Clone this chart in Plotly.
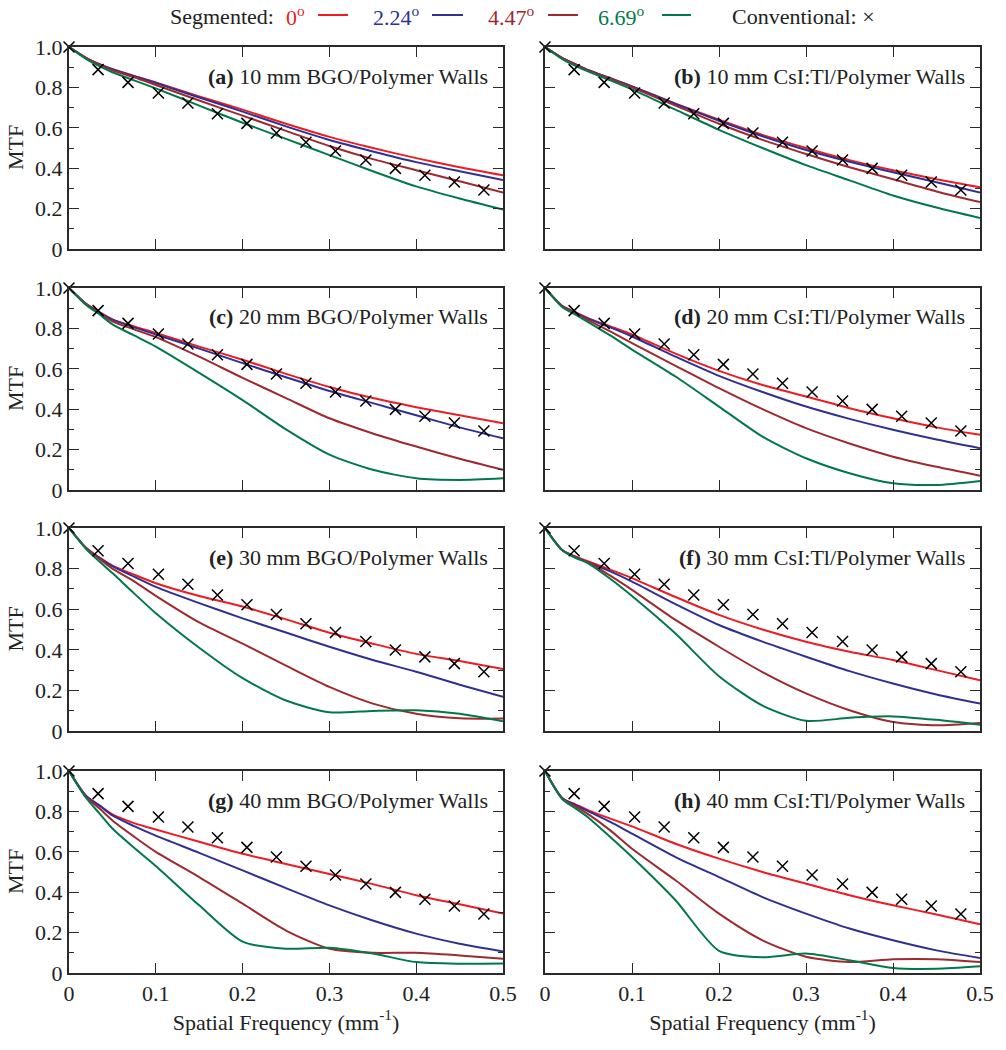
import plotly.graph_objects as go
from plotly.subplots import make_subplots

# ---------------- data ----------------
freq = [0, 0.02, 0.035, 0.05, 0.075, 0.1, 0.15, 0.2, 0.25, 0.3, 0.35, 0.4, 0.45, 0.5]

conv_freq = [0, 0.0335, 0.068, 0.103, 0.137, 0.171, 0.205, 0.239, 0.273, 0.307, 0.342, 0.376, 0.410, 0.444, 0.478]
conv_mtf = [1.0, 0.888, 0.825, 0.772, 0.723, 0.670, 0.622, 0.574, 0.528, 0.485, 0.441, 0.399, 0.365, 0.332, 0.292]

angle_labels = ["0", "2.24", "4.47", "6.69"]

# (a) 10 mm BGO
a_0 = [1.0, 0.945, 0.915, 0.89, 0.857, 0.825, 0.755, 0.69, 0.62, 0.555, 0.5, 0.45, 0.405, 0.365]
a_224 = [1.0, 0.945, 0.915, 0.89, 0.855, 0.822, 0.75, 0.68, 0.607, 0.54, 0.483, 0.43, 0.385, 0.342]
a_447 = [1.0, 0.945, 0.913, 0.885, 0.85, 0.812, 0.735, 0.66, 0.585, 0.51, 0.445, 0.39, 0.335, 0.28]
a_669 = [1.0, 0.94, 0.905, 0.875, 0.835, 0.795, 0.71, 0.625, 0.545, 0.465, 0.385, 0.31, 0.25, 0.195]
# (b) 10 mm CsI:Tl
b_0 = [1.0, 0.945, 0.915, 0.885, 0.845, 0.805, 0.72, 0.64, 0.565, 0.5, 0.44, 0.39, 0.345, 0.305]
b_224 = [1.0, 0.945, 0.915, 0.885, 0.845, 0.805, 0.718, 0.635, 0.558, 0.49, 0.432, 0.38, 0.33, 0.28]
b_447 = [1.0, 0.945, 0.913, 0.883, 0.842, 0.80, 0.71, 0.62, 0.54, 0.47, 0.405, 0.345, 0.285, 0.232]
b_669 = [1.0, 0.94, 0.907, 0.878, 0.835, 0.79, 0.69, 0.59, 0.5, 0.415, 0.34, 0.265, 0.205, 0.153]
# (c) 20 mm BGO
c_0 = [1.0, 0.92, 0.88, 0.845, 0.81, 0.778, 0.71, 0.645, 0.575, 0.51, 0.455, 0.41, 0.37, 0.33]
c_224 = [1.0, 0.92, 0.88, 0.843, 0.805, 0.77, 0.70, 0.628, 0.558, 0.49, 0.43, 0.37, 0.31, 0.256]
c_447 = [1.0, 0.92, 0.877, 0.835, 0.795, 0.757, 0.66, 0.555, 0.455, 0.355, 0.28, 0.215, 0.155, 0.1]
c_669 = [1.0, 0.915, 0.87, 0.82, 0.765, 0.71, 0.58, 0.445, 0.3, 0.175, 0.1, 0.058, 0.05, 0.058]
# (d) 20 mm CsI:Tl
d_0 = [1.0, 0.91, 0.88, 0.85, 0.81, 0.77, 0.675, 0.59, 0.52, 0.463, 0.405, 0.355, 0.31, 0.273]
d_224 = [1.0, 0.91, 0.878, 0.847, 0.805, 0.76, 0.66, 0.565, 0.485, 0.413, 0.352, 0.298, 0.25, 0.207]
d_447 = [1.0, 0.91, 0.875, 0.84, 0.785, 0.727, 0.615, 0.504, 0.4, 0.306, 0.23, 0.165, 0.115, 0.071]
d_669 = [1.0, 0.905, 0.868, 0.83, 0.765, 0.695, 0.562, 0.413, 0.264, 0.157, 0.083, 0.033, 0.025, 0.045]
# (e) 30 mm BGO
e_0 = [1.0, 0.9, 0.855, 0.815, 0.77, 0.728, 0.665, 0.613, 0.55, 0.484, 0.43, 0.38, 0.345, 0.305]
e_224 = [1.0, 0.9, 0.853, 0.812, 0.76, 0.71, 0.63, 0.555, 0.485, 0.415, 0.35, 0.292, 0.228, 0.168]
e_447 = [1.0, 0.9, 0.848, 0.80, 0.737, 0.666, 0.535, 0.43, 0.322, 0.217, 0.135, 0.085, 0.063, 0.061]
e_669 = [1.0, 0.895, 0.835, 0.778, 0.678, 0.58, 0.41, 0.26, 0.15, 0.092, 0.099, 0.102, 0.085, 0.048]
# (f) 30 mm CsI:Tl
f_0 = [1.0, 0.89, 0.86, 0.835, 0.795, 0.753, 0.66, 0.572, 0.5, 0.44, 0.39, 0.35, 0.3, 0.25]
f_224 = [1.0, 0.89, 0.858, 0.83, 0.786, 0.736, 0.625, 0.522, 0.44, 0.366, 0.295, 0.234, 0.18, 0.135]
f_447 = [1.0, 0.89, 0.855, 0.83, 0.765, 0.695, 0.547, 0.415, 0.29, 0.185, 0.102, 0.044, 0.028, 0.04]
f_669 = [1.0, 0.89, 0.853, 0.825, 0.75, 0.665, 0.48, 0.27, 0.125, 0.05, 0.065, 0.072, 0.055, 0.031]
# (g) 40 mm BGO
g_0 = [1.0, 0.875, 0.83, 0.785, 0.742, 0.71, 0.65, 0.59, 0.54, 0.49, 0.44, 0.385, 0.34, 0.294]
g_224 = [1.0, 0.875, 0.83, 0.78, 0.727, 0.68, 0.595, 0.508, 0.42, 0.335, 0.26, 0.195, 0.145, 0.107]
g_447 = [1.0, 0.87, 0.815, 0.755, 0.675, 0.6, 0.475, 0.343, 0.21, 0.12, 0.1, 0.1, 0.087, 0.071]
g_669 = [1.0, 0.865, 0.79, 0.715, 0.62, 0.53, 0.335, 0.155, 0.12, 0.125, 0.096, 0.054, 0.046, 0.047]
# (h) 40 mm CsI:Tl
h_0 = [1.0, 0.865, 0.835, 0.805, 0.764, 0.726, 0.64, 0.566, 0.5, 0.442, 0.385, 0.335, 0.29, 0.241]
h_224 = [1.0, 0.865, 0.832, 0.8, 0.748, 0.69, 0.574, 0.475, 0.376, 0.294, 0.22, 0.162, 0.112, 0.074]
h_447 = [1.0, 0.862, 0.825, 0.785, 0.706, 0.615, 0.459, 0.294, 0.162, 0.08, 0.054, 0.068, 0.068, 0.054]
h_669 = [1.0, 0.86, 0.815, 0.769, 0.673, 0.574, 0.36, 0.11, 0.078, 0.096, 0.063, 0.025, 0.021, 0.033]

panel_letters = ["a", "b", "c", "d", "e", "f", "g", "h"]
panel_titles = ["10 mm BGO/Polymer Walls", "10 mm CsI:Tl/Polymer Walls",
                "20 mm BGO/Polymer Walls", "20 mm CsI:Tl/Polymer Walls",
                "30 mm BGO/Polymer Walls", "30 mm CsI:Tl/Polymer Walls",
                "40 mm BGO/Polymer Walls", "40 mm CsI:Tl/Polymer Walls"]
panel_series = [[a_0, a_224, a_447, a_669], [b_0, b_224, b_447, b_669],
                [c_0, c_224, c_447, c_669], [d_0, d_224, d_447, d_669],
                [e_0, e_224, e_447, e_669], [f_0, f_224, f_447, f_669],
                [g_0, g_224, g_447, g_669], [h_0, h_224, h_447, h_669]]

x_tickvals = [0, 0.1, 0.2, 0.3, 0.4, 0.5]
x_ticktext = ["0", "0.1", "0.2", "0.3", "0.4", "0.5"]
y_tickvals = [0, 0.2, 0.4, 0.6, 0.8, 1.0]
y_ticktext = ["0", "0.2", "0.4", "0.6", "0.8", "1.0"]

# ---------------- style ----------------
colors = ["#ec1c24", "#2e3192", "#9e2a2f", "#00794a"]
FONT = "Liberation Serif, Times New Roman, serif"
FS = 22
W, H = 1006, 1050
col_px = [(69, 503), (545, 980)]
row_px = [(47, 249), (288, 490), (528, 731), (771, 973)]
AX = "#2a2a2a"
TXT = "#222"


def px_x(p):
    return p / W


def px_y(p):
    return 1 - p / H


fig = make_subplots(rows=4, cols=2)

for i in range(8):
    r, c = i // 2 + 1, i % 2 + 1
    for k in range(4):
        fig.add_trace(go.Scatter(x=freq, y=panel_series[i][k], mode="lines",
                                 line=dict(color=colors[k], width=2, shape="spline", smoothing=0.7),
                                 showlegend=False, hoverinfo="skip"), row=r, col=c)
    fig.add_trace(go.Scatter(x=conv_freq, y=conv_mtf, mode="markers", cliponaxis=False,
                             marker=dict(symbol="x-thin", size=11, color="black",
                                         line=dict(width=1.5, color="black")),
                             showlegend=False, hoverinfo="skip"), row=r, col=c)

    x0, x1 = col_px[c - 1]
    y0, y1 = row_px[r - 1]
    xd = [px_x(x0), px_x(x1)]
    yd = [px_y(y1), px_y(y0)]
    fig.update_xaxes(domain=xd, range=[0, 0.5], tickvals=x_tickvals,
                     ticktext=x_ticktext, showticklabels=(r == 4), automargin=False,
                     ticks="inside", ticklen=10, tickwidth=1.2, tickcolor=AX,
                     showline=True, linecolor=AX, linewidth=2, mirror="ticks",
                     showgrid=False, zeroline=False,
                     tickfont=dict(family=FONT, size=FS, color=TXT),
                     title=dict(text="Spatial Frequency (mm<sup>-1</sup>)" if r == 4 else "",
                                font=dict(family=FONT, size=FS, color=TXT), standoff=4),
                     row=r, col=c)
    fig.update_yaxes(domain=yd, range=[0, 1.0], tickvals=y_tickvals,
                     ticktext=y_ticktext, showticklabels=(c == 1), automargin=False,
                     ticks="inside", ticklen=10, tickwidth=1.2, tickcolor=AX,
                     minor=dict(dtick=0.1, tick0=0, ticks="inside", ticklen=5, tickcolor=AX,
                                tickwidth=1.2, showgrid=False),
                     showline=True, linecolor=AX, linewidth=2, mirror="ticks",
                     showgrid=False, zeroline=False,
                     tickfont=dict(family=FONT, size=FS, color=TXT),
                     row=r, col=c)
    xref = "x" + ("" if i == 0 else str(i + 1))
    yref = "y" + ("" if i == 0 else str(i + 1))
    fig.add_annotation(text="<b>(" + panel_letters[i] + ")</b> " + panel_titles[i],
                       xref=xref + " domain", yref=yref + " domain",
                       x=0.97, y=1 - 29 / 202, xanchor="right", yanchor="middle",
                       showarrow=False, font=dict(family=FONT, size=FS, color=TXT))
    if c == 1:
        fig.add_annotation(text="MTF", xref="paper", yref=yref + " domain",
                           x=px_x(15), y=0.5, xanchor="center", yanchor="middle",
                           textangle=-90, showarrow=False,
                           font=dict(family=FONT, size=FS, color=TXT))

# ---------------- legend (header) ----------------
ly = px_y(16)
legend_items = [("Segmented:", TXT, 168), (angle_labels[0] + "<sup>o</sup>", colors[0], 284),
                (angle_labels[1] + "<sup>o</sup>", colors[1], 371), (angle_labels[2] + "<sup>o</sup>", colors[2], 486),
                (angle_labels[3] + "<sup>o</sup>", colors[3], 596), ("Conventional: ×", TXT, 730)]
for txt, col, px in legend_items:
    fig.add_annotation(text=txt, xref="paper", yref="paper", x=px_x(px), y=ly,
                       xanchor="left", yanchor="middle", showarrow=False,
                       font=dict(family=FONT, size=FS, color=col))
line_px = [(318, 348), (432, 463), (548, 578), (662, 691)]
for (a, b), col in zip(line_px, colors):
    fig.add_shape(type="line", xref="paper", yref="paper", x0=px_x(a), x1=px_x(b),
                  y0=px_y(15), y1=px_y(15), line=dict(color=col, width=2))

fig.update_layout(width=W, height=H, margin=dict(l=0, r=0, t=0, b=0),
                  plot_bgcolor="white", paper_bgcolor="white",
                  font=dict(family=FONT, size=FS, color=TXT), showlegend=False)

fig.write_html("out.html", config={"displayModeBar": False},
               post_script="document.body.style.margin='0px';")
